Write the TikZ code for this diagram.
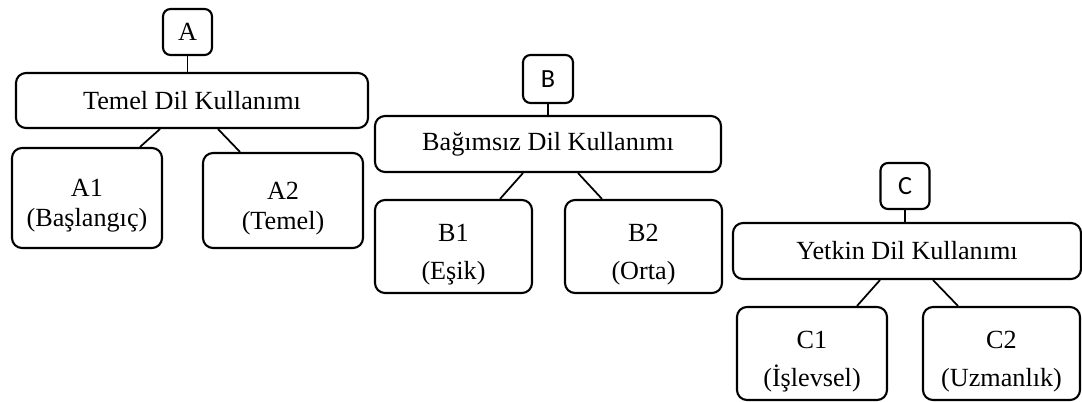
\documentclass[tikz,border=0pt]{standalone}
\usepackage{fontspec}
\setmainfont{Liberation Serif}
\newfontfamily\lblfont{Carlito}
\usepackage{tikz}
\newcommand{\lift}{\rule{0pt}{19pt}}

\begin{document}
\begin{tikzpicture}[
    box/.style={rectangle, rounded corners=0.2cm, draw, line width=1.2pt, inner sep=0pt, font=\fontsize{14.9}{18}\selectfont},
    cat/.style={box, rounded corners=0.15cm, minimum width=0.98cm, minimum height=0.92cm},
    lvl/.style={box, align=center}]
    \useasboundingbox (0,0) rectangle (21.64,8.02);

    \begin{scope}[shift={(3.84,6.01)}]
      \begin{scope}[every node/.style={box}]
        \node [cat] (a) at (-0.09,1.37) {A};
        \node [minimum width=7.04cm, minimum height=1.10cm] (am) at (0,0) {Temel Dil Kullanımı};
        \node [lvl, minimum width=3.0cm, minimum height=2.0cm, font=\fontsize{14.9}{17}\selectfont] (a1) at (-2.10,-1.95) {\lift A1\\(Başlangıç)};
        \node [lvl, minimum width=3.2cm, minimum height=1.9cm, font=\fontsize{14.9}{17}\selectfont] (a2) at (1.82,-2.00) {\lift A2\\(Temel)};
      \end{scope}
      \begin{scope}[line width=1pt]
        \draw (a.south) to (a.south |- am.north);
        \draw ([xshift=-0.64cm]am.south) to ([xshift=1.06cm]a1.north);
        \draw ([xshift=0.52cm]am.south) to ([xshift=-0.86cm]a2.north);
      \end{scope}
    \end{scope}

    \begin{scope}[shift={(10.96,5.14)}]
      \begin{scope}[every node/.style={box}]
        \node [cat, minimum width=1.0cm, minimum height=0.96cm] (b) at (0,1.30) {\lblfont B};
        \node [minimum width=6.92cm, minimum height=1.12cm] (bm) at (0,0) {Bağımsız Dil Kullanımı};
        \node [lvl, minimum width=3.14cm, minimum height=1.86cm] (b1) at (-1.89,-2.05) {\lift B1\\[4pt](Eşik)};
        \node [lvl, minimum width=3.14cm, minimum height=1.86cm] (b2) at (1.91,-2.05) {\lift B2\\[4pt](Orta)};
      \end{scope}
      \begin{scope}[line width=1pt]
        \draw (b.south) to (b.south |- bm.north);
        \draw ([xshift=-0.5cm]bm.south) to ([xshift=0.93cm]b1.north);
        \draw ([xshift=0.6cm]bm.south) to ([xshift=-0.83cm]b2.north);
      \end{scope}
    \end{scope}

    \begin{scope}[shift={(18.14,3.00)}]
      \begin{scope}[every node/.style={box}]
        \node [cat] (c) at (-0.04,1.30) {\lblfont C};
        \node [minimum width=6.96cm, minimum height=1.12cm] (cm) at (0,0) {Yetkin Dil Kullanımı};
        \node [lvl, minimum width=3.0cm, minimum height=1.86cm] (c1) at (-1.90,-2.05) {\lift C1\\[4pt](İşlevsel)};
        \node [lvl, minimum width=3.14cm, minimum height=1.86cm] (c2) at (1.89,-2.05) {\lift C2\\[4pt](Uzmanlık)};
      \end{scope}
      \begin{scope}[line width=1pt]
        \draw (c.south) to (c.south |- cm.north);
        \draw ([xshift=-0.54cm]cm.south) to ([xshift=0.9cm]c1.north);
        \draw ([xshift=0.52cm]cm.south) to ([xshift=-0.87cm]c2.north);
      \end{scope}
    \end{scope}
  \end{tikzpicture}
\end{document}
